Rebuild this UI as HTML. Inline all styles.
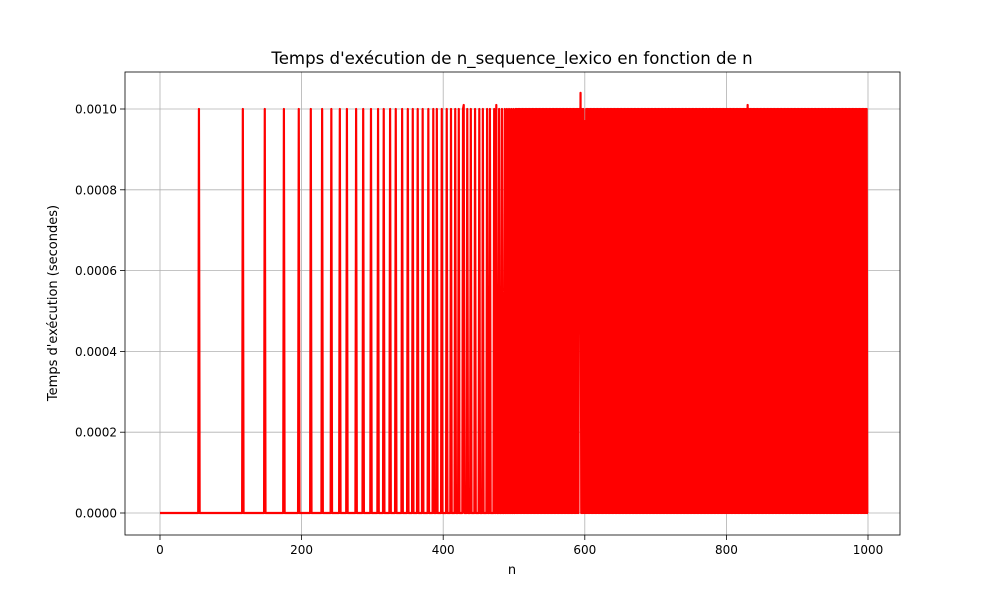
<!DOCTYPE html>
<html><head><meta charset="utf-8"><style>body{margin:0;background:#fff}svg text{font-family:"DejaVu Sans","Liberation Sans",sans-serif}</style></head>
<body>
<svg id="chart" width="1000" height="600" xmlns="http://www.w3.org/2000/svg">
<rect width="1000" height="600" fill="#fff"/>
<g id="grid"></g><g id="series"></g><g id="axes"></g>
</svg>
<script>
const xTicks=[0,200,400,600,800,1000];
const yTicks=[0,0.0002,0.0004,0.0006,0.0008,0.001];
const yTickLabels=["0.0000","0.0002","0.0004","0.0006","0.0008","0.0010"];
const sparseSpikes=[55,117,148,175,196,213,229,242,254,264,277,287,298,308,316,325,333,342,350,357,364,371,379,386,391,398,405,411,417,422,428,434,439,445,451,456,462,466,472,475,479,483,487,490,493,496,499];
const denseSpikes=[502,504,506,508,510,512,514,516,518,520,522,524,526,528,530,532,534,536,538,540,542,544,546,548,550,
552,554,556,558,560,562,564,566,568,570,572,574,576,578,580,582,584,586,588,590,592,594,596,598,600,
602,604,606,608,610,612,614,616,618,620,622,624,626,628,630,632,634,636,638,640,642,644,646,648,650,
652,654,656,658,660,662,664,666,668,670,672,674,676,678,680,682,684,686,688,690,692,694,696,698,700,
702,704,706,708,710,712,714,716,718,720,722,724,726,728,730,732,734,736,738,740,742,744,746,748,750,
752,754,756,758,760,762,764,766,768,770,772,774,776,778,780,782,784,786,788,790,792,794,796,798,800,
802,804,806,808,810,812,814,816,818,820,822,824,826,828,830,832,834,836,838,840,842,844,846,848,850,
852,854,856,858,860,862,864,866,868,870,872,874,876,878,880,882,884,886,888,890,892,894,896,898,900,
902,904,906,908,910,912,914,916,918,920,922,924,926,928,930,932,934,936,938,940,942,944,946,948,950,
952,954,956,958,960,962,964,966,968,970,972,974,976,978,980,982,984,986,988,990,992,994,996,998];
const spikeValue=0.001;
const specialN=[429,475,593,594,600,830];
const specialV=[0.00101,0.00101,0.00052,0.00104,0.00097,0.00101];
const nMax=1000;

const X0=125,X1=900,Y0=72,Y1=535;
const xs=n=>160+n*0.708;
const ys=v=>513-v*404000;
const NS="http://www.w3.org/2000/svg";
function mk(tag,attrs,parent){const e=document.createElementNS(NS,tag);for(const k in attrs)e.setAttribute(k,attrs[k]);parent.appendChild(e);return e;}
const grid=document.getElementById('grid'),ser=document.getElementById('series'),axes=document.getElementById('axes');

xTicks.forEach(t=>{
 const g=mk('line',{x1:xs(t),x2:xs(t),y1:Y0,y2:Y1,stroke:'#b0b0b0','stroke-width':0.8},grid);
 
 
 mk('line',{x1:xs(t),x2:xs(t),y1:Y1,y2:Y1+5,stroke:'#000','stroke-width':0.8},axes);
 const tx=mk('text',{x:xs(t),y:Y1+19,'font-size':12,'text-anchor':'middle'},axes);tx.textContent=t;
 
 
});
yTicks.forEach((t,i)=>{
 const g=mk('line',{x1:X0,x2:X1,y1:ys(t),y2:ys(t),stroke:'#b0b0b0','stroke-width':0.8},grid);
 
 
 mk('line',{x1:X0-5,x2:X0,y1:ys(t),y2:ys(t),stroke:'#000','stroke-width':0.8},axes);
 const tx=mk('text',{x:X0-8,y:ys(t)+4.5,'font-size':12,'text-anchor':'end'},axes);tx.textContent=yTickLabels[i];
 
 
});

const vals=new Array(nMax+1).fill(0);
sparseSpikes.concat(denseSpikes).forEach(n=>{vals[n]=spikeValue;});
specialN.forEach((n,i)=>{vals[n]=specialV[i];});
let pts=vals.map((v,n)=>xs(n).toFixed(2)+','+ys(v).toFixed(2)).join(' ');
const pl=mk('polyline',{points:pts,fill:'none',stroke:'#ff0000','stroke-width':2.2,'stroke-linejoin':'round'},ser);



const fr=mk('rect',{x:X0,y:Y0,width:X1-X0,height:Y1-Y0,fill:'none',stroke:'#000','stroke-width':0.8},axes);


const ti=mk('text',{x:512,y:64,'font-size':16.6,'text-anchor':'middle'},axes);ti.textContent="Temps d'exécution de n_sequence_lexico en fonction de n";


const xl=mk('text',{x:512,y:574,'font-size':13,'text-anchor':'middle'},axes);xl.textContent="n";


const yl=mk('text',{x:57,y:303,'font-size':13,'text-anchor':'middle',transform:'rotate(-90 57 303)'},axes);yl.textContent="Temps d'exécution (secondes)";


</script>
</body></html>
